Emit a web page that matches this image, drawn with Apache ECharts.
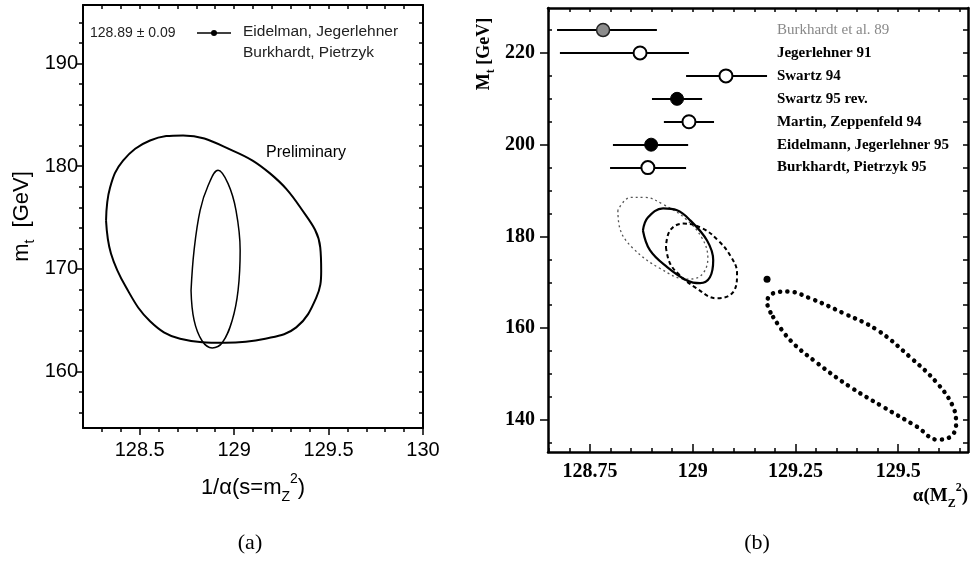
<!DOCTYPE html>
<html>
<head>
<meta charset="utf-8">
<script src="https://cdn.jsdelivr.net/npm/echarts@6/dist/echarts.min.js"></script>
<style>
  html, body { margin: 0; padding: 0; background: #fff; }
  #main { width: 978px; height: 561px; }
</style>
</head>
<body>
<div id="main"></div>
<script>
// ---- panel (a) data ----
var aMajorX = [128.5, 129, 129.5, 130]
var aMinorX = [128.3, 128.4, 128.6, 128.7, 128.8, 128.9, 129.1, 129.2, 129.3, 129.4, 129.6, 129.7, 129.8, 129.9]
var aMajorY = [160, 170, 180, 190]
var aMinorY = [156, 158, 162, 164, 166, 168, 172, 174, 176, 178, 182, 184, 186, 188, 192, 194]
// outer "Preliminary" contour
var prelimContour = [
  [128.322, 174.7], [128.348, 171.5], [128.428, 168.2], [128.555, 164.9], [128.714, 163.2],
  [128.952, 162.8], [129.165, 163.2], [129.329, 164.3], [129.435, 167.2], [129.461, 169.8],
  [129.456, 172.1], [129.35, 176.0], [129.19, 179.3], [128.995, 181.5], [128.73, 183.0],
  [128.555, 182.5], [128.412, 180.55], [128.343, 177.9], [128.322, 174.7]
]
// narrow contour (Eidelman, Jegerlehner / Burkhardt, Pietrzyk)
var narrowContour = [
  [128.772, 167.9], [128.788, 165.0], [128.83, 163.0], [128.884, 162.3], [128.937, 162.8],
  [128.99, 165.0], [129.021, 167.9], [129.032, 171.8], [129.01, 175.7], [128.968, 178.3],
  [128.915, 179.6], [128.862, 178.1], [128.82, 175.7], [128.788, 171.8], [128.772, 167.9]
]

// ---- panel (b) data ----
var bMajorX = [128.75, 129, 129.25, 129.5]
var bMinorX = [128.65, 128.7, 128.8, 128.85, 128.9, 128.95, 129.05, 129.1, 129.15, 129.2, 129.3, 129.35, 129.4, 129.45, 129.55, 129.6, 129.65]
var bMajorY = [140, 160, 180, 200, 220]
var bMinorY = [135, 145, 150, 155, 165, 170, 175, 185, 190, 195, 205, 210, 215, 225]

var refNames = ['Burkhardt et al. 89', 'Jegerlehner 91', 'Swartz 94', 'Swartz 95 rev.',
  'Martin, Zeppenfeld 94', 'Eidelmann, Jegerlehner 95', 'Burkhardt, Pietrzyk 95']
var refMt = [225, 220, 215, 210, 205, 200, 195]
var refCentral = [128.782, 128.872, 129.081, 128.962, 128.991, 128.899, 128.891]
var refLow = [128.67, 128.677, 128.984, 128.901, 128.930, 128.806, 128.799]
var refHigh = [128.913, 128.991, 129.181, 129.023, 129.052, 128.989, 128.984]
var refMarker = ['hatch', 'open', 'open', 'full', 'open', 'full', 'open']

var thinDotted = [
  [128.818, 185.7], [128.823, 181.7], [128.855, 177.4], [128.921, 173.0], [128.986, 170.7],
  [129.018, 171.3], [129.037, 175.2], [129.023, 179.6], [128.982, 183.9], [128.928, 187.0],
  [128.884, 188.5], [128.848, 188.5], [128.818, 185.7]
]
var solidB = [
  [128.879, 181.3], [128.896, 177.0], [128.938, 173.3], [128.986, 170.4], [129.018, 169.8],
  [129.042, 171.1], [129.05, 174.8], [129.035, 179.1], [128.994, 183.5], [128.962, 185.7],
  [128.928, 186.1], [128.891, 184.1], [128.879, 181.3]
]
var dashedB = [
  [128.935, 177.6], [128.945, 174.1], [128.969, 171.5], [129.006, 168.9], [129.059, 166.5],
  [129.098, 167.8], [129.108, 172.0], [129.091, 175.9], [129.062, 179.1], [129.025, 181.7],
  [128.977, 182.8], [128.945, 181.3], [128.935, 177.6]
]
var bigDotted = [
  [129.196, 162.4], [129.237, 157.4], [129.303, 152.4], [129.383, 147.2], [129.464, 142.8],
  [129.546, 138.5], [129.595, 135.7], [129.627, 136.3], [129.641, 138.9], [129.634, 142.8],
  [129.595, 148.0], [129.529, 153.7], [129.449, 159.6], [129.366, 163.3], [129.286, 166.5],
  [129.232, 168.0], [129.196, 167.6], [129.181, 165.7], [129.196, 162.4]
]
var lonePoint = [[129.181, 170.65]]

var labelX = 129.205
var sans = 'Liberation Sans'
var serif = 'Liberation Serif'

function tickAxis (grid, pos, min, max, vals, len, inside, showLine, lw, extra) {
  return Object.assign({
    type: 'value',
    gridIndex: grid,
    position: pos,
    offset: 0,
    min: min,
    max: max,
    axisLine: { show: showLine, onZero: false, lineStyle: { color: '#000', width: lw } },
    axisTick: { show: true, customValues: vals, length: len, inside: inside, lineStyle: { color: '#000', width: 1.5 } },
    axisLabel: { show: false },
    splitLine: { show: false }
  }, extra || {})
}

var chart = echarts.init(document.getElementById('main'))

var markerStyle = {
  hatch: { color: '#8c8c8c', borderColor: '#222', borderWidth: 1.5, opacity: 1 },
  open: { color: '#fff', borderColor: '#000', borderWidth: 2, opacity: 1 },
  full: { color: '#000', borderColor: '#000', borderWidth: 1, opacity: 1 }
}

var option = {
  animation: false,
  grid: [
    { left: 83, top: 5, width: 340, height: 423 },
    { left: 548, top: 8, width: 420, height: 444 }
  ],
  xAxis: [
    tickAxis(0, 'bottom', 128.2, 130, aMajorX, 7, false, true, 2, {
      axisLabel: { show: true, customValues: aMajorX, fontFamily: sans, fontSize: 20, color: '#000', margin: 12 },
      name: '{b|1/α(s=m}{s|Z}{p|2}{b|)}',
      nameLocation: 'middle',
      nameGap: 44,
      nameTextStyle: {
        rich: {
          b: { fontFamily: sans, fontSize: 22, color: '#000', lineHeight: 32, verticalAlign: 'middle' },
          s: { fontFamily: sans, fontSize: 14, color: '#000', verticalAlign: 'bottom', lineHeight: 32 },
          p: { fontFamily: sans, fontSize: 14, color: '#000', verticalAlign: 'top', lineHeight: 32 }
        }
      }
    }),
    tickAxis(0, 'bottom', 128.2, 130, aMinorX, 4, false, false, 2),
    tickAxis(0, 'top', 128.2, 130, aMajorX.concat(aMinorX), 4, true, true, 2),
    tickAxis(1, 'bottom', 128.648, 129.67, bMajorX, 8, true, true, 2.5, {
      axisLabel: { show: true, customValues: bMajorX, fontFamily: serif, fontWeight: 'bold', fontSize: 20, color: '#000', margin: 10 }
    }),
    tickAxis(1, 'bottom', 128.648, 129.67, bMinorX, 4, true, false, 2.5),
    tickAxis(1, 'top', 128.648, 129.67, bMajorX.concat(bMinorX), 4, true, true, 2.5)
  ],
  yAxis: [
    tickAxis(0, 'left', 154.5, 195.7, aMajorY, 7, false, true, 2, {
      axisLabel: { show: true, customValues: aMajorY, fontFamily: sans, fontSize: 20, color: '#000', margin: 5 },
      name: '{b|m}{s|t}{b|  [GeV]}',
      nameLocation: 'middle',
      nameGap: 46,
      nameRotate: 90,
      nameTextStyle: {
        rich: {
          b: { fontFamily: sans, fontSize: 22, color: '#000', lineHeight: 30, verticalAlign: 'middle' },
          s: { fontFamily: sans, fontSize: 14, color: '#000', lineHeight: 30, verticalAlign: 'bottom' }
        }
      }
    }),
    tickAxis(0, 'left', 154.5, 195.7, aMinorY, 4, false, false, 2),
    tickAxis(0, 'right', 154.5, 195.7, aMajorY.concat(aMinorY), 4, true, true, 2),
    tickAxis(1, 'left', 133, 229.8, bMajorY, 8, false, true, 2.5, {
      axisLabel: { show: true, customValues: bMajorY, fontFamily: serif, fontWeight: 'bold', fontSize: 20, color: '#000', margin: 13 }
    }),
    tickAxis(1, 'left', 133, 229.8, bMinorY, 4, true, false, 2.5),
    tickAxis(1, 'right', 133, 229.8, bMajorY.concat(bMinorY), 5, true, true, 2.5)
  ],
  graphic: [
    { type: 'text', left: 90, top: 26, style: { text: '128.89 ± 0.09', fontFamily: sans, fontSize: 14, fill: '#222' } },
    { type: 'line', shape: { x1: 197, y1: 33, x2: 231, y2: 33 }, style: { stroke: '#000', lineWidth: 1.5 } },
    { type: 'circle', shape: { cx: 214, cy: 33, r: 3 }, style: { fill: '#000' } },
    { type: 'text', left: 243, top: 24, style: { text: 'Eidelman, Jegerlehner', fontFamily: sans, fontSize: 15.5, fill: '#222' } },
    { type: 'text', left: 243, top: 45, style: { text: 'Burkhardt, Pietrzyk', fontFamily: sans, fontSize: 15.5, fill: '#222' } },
    { type: 'text', left: 266, top: 145, style: { text: 'Preliminary', fontFamily: sans, fontSize: 16, fill: '#000' } },
    { type: 'text', x: 250, y: 543, style: { text: '(a)', fontFamily: serif, fontSize: 22, fill: '#000', align: 'center', verticalAlign: 'middle' } },
    { type: 'text', x: 757, y: 543, style: { text: '(b)', fontFamily: serif, fontSize: 22, fill: '#000', align: 'center', verticalAlign: 'middle' } },
    {
      type: 'text', x: 968, y: 496,
      style: {
        text: '{b|α(M}{s|Z}{p|2}{b|)}', align: 'right', verticalAlign: 'middle',
        rich: {
          b: { fontFamily: serif, fontWeight: 'bold', fontSize: 19, fill: '#000', lineHeight: 28, verticalAlign: 'middle' },
          s: { fontFamily: serif, fontWeight: 'bold', fontSize: 12, fill: '#000', lineHeight: 28, verticalAlign: 'bottom' },
          p: { fontFamily: serif, fontWeight: 'bold', fontSize: 12, fill: '#000', lineHeight: 28, verticalAlign: 'top' }
        }
      }
    },
    {
      type: 'text', x: 484, y: 54, rotation: Math.PI / 2,
      style: {
        text: '{b|M}{s|t}{b| [GeV]}', align: 'center', verticalAlign: 'middle',
        rich: {
          b: { fontFamily: serif, fontWeight: 'bold', fontSize: 18, fill: '#000', lineHeight: 26, verticalAlign: 'middle' },
          s: { fontFamily: serif, fontWeight: 'bold', fontSize: 12, fill: '#000', lineHeight: 26, verticalAlign: 'bottom' }
        }
      }
    }
  ],
  series: [
    {
      type: 'line', xAxisIndex: 0, yAxisIndex: 0, data: prelimContour, smooth: 0.4,
      symbol: 'none', lineStyle: { color: '#000', width: 2 }
    },
    {
      type: 'line', xAxisIndex: 0, yAxisIndex: 0, data: narrowContour, smooth: 0.4,
      symbol: 'none', lineStyle: { color: '#000', width: 1.5 }
    },
    {
      type: 'line', xAxisIndex: 3, yAxisIndex: 3, data: thinDotted, smooth: 0.4,
      symbol: 'none', lineStyle: { color: '#555', width: 1.3, type: [2, 3] }
    },
    {
      type: 'line', xAxisIndex: 3, yAxisIndex: 3, data: solidB, smooth: 0.4,
      symbol: 'none', lineStyle: { color: '#000', width: 2.2 }
    },
    {
      type: 'line', xAxisIndex: 3, yAxisIndex: 3, data: dashedB, smooth: 0.4,
      symbol: 'none', lineStyle: { color: '#000', width: 2, type: [4, 3] }
    },
    {
      type: 'line', xAxisIndex: 3, yAxisIndex: 3, data: bigDotted, smooth: 0.4,
      symbol: 'none', lineStyle: { color: '#000', width: 4.5, type: [0.1, 7.2], cap: 'round' }
    },
    {
      type: 'scatter', xAxisIndex: 3, yAxisIndex: 3, data: lonePoint,
      symbolSize: 7, itemStyle: { color: '#000', opacity: 1 }
    },
    {
      type: 'lines', coordinateSystem: 'cartesian2d', xAxisIndex: 3, yAxisIndex: 3,
      lineStyle: { color: '#000', width: 2, opacity: 1 },
      data: refMt.map(function (m, i) {
        return { coords: [[refLow[i], m], [refHigh[i], m]] }
      })
    },
    {
      type: 'scatter', xAxisIndex: 3, yAxisIndex: 3, symbolSize: 13, z: 5,
      data: refMt.map(function (m, i) {
        return { value: [refCentral[i], m], itemStyle: markerStyle[refMarker[i]] }
      })
    },
    {
      type: 'scatter', xAxisIndex: 3, yAxisIndex: 3, symbolSize: 0, silent: true,
      itemStyle: { opacity: 1 },
      data: refMt.map(function (m, i) {
        return {
          name: refNames[i],
          value: [labelX, m],
          label: { color: i === 0 ? '#888' : '#000', fontWeight: i === 0 ? 'normal' : 'bold' }
        }
      }),
      label: {
        show: true, position: 'right', distance: 0, formatter: '{b}',
        fontFamily: serif, fontSize: 15
      }
    }
  ]
}

chart.setOption(option)
</script>
</body>
</html>
